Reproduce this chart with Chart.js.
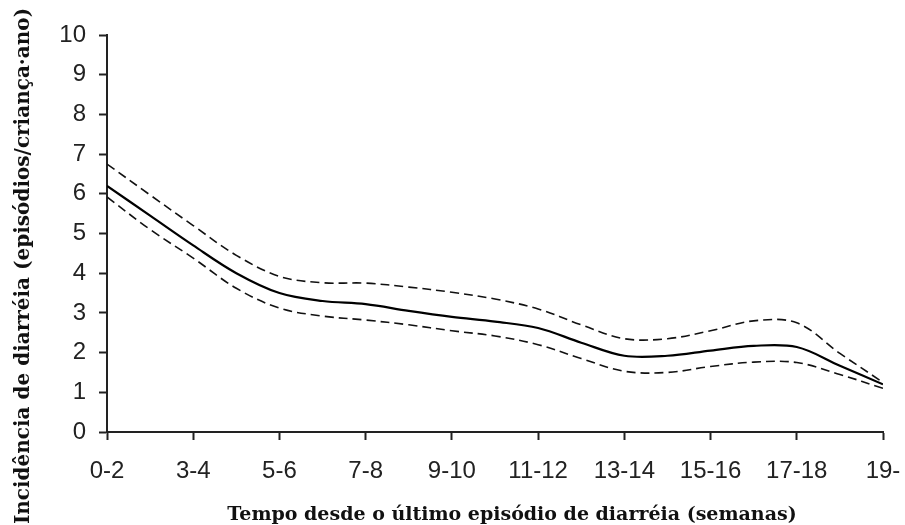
<!DOCTYPE html>
<html>
<head>
<meta charset="utf-8">
<script src="https://cdn.jsdelivr.net/npm/chart.js"></script>
<style>
  html, body { margin: 0; padding: 0; background: #fff; }
  #wrap { width: 905px; height: 525px; }
</style>
</head>
<body>
<div id="wrap"><canvas id="chart" width="905" height="525"></canvas></div>
<script>
// tick labels of the x axis (weeks since last episode)
const weekLabels = ['0-2', '3-4', '5-6', '7-8', '9-10', '11-12', '13-14', '15-16', '17-18', '19-'];
// curve sampled at half steps between the week groups
const weekPos = [0, 0.5, 1, 1.5, 2, 2.5, 3, 3.5, 4, 4.5, 5, 5.5, 6, 6.5, 7, 7.5, 8, 8.5, 9];
const incidence = [6.2, 5.45, 4.7, 4.0, 3.5, 3.3, 3.22, 3.05, 2.9, 2.78, 2.62, 2.25, 1.92, 1.92, 2.05, 2.17, 2.14, 1.67, 1.2];
const upperCI   = [6.75, 5.97, 5.2, 4.45, 3.92, 3.76, 3.75, 3.65, 3.52, 3.35, 3.1, 2.7, 2.35, 2.35, 2.55, 2.8, 2.75, 1.98, 1.25];
const lowerCI   = [5.92, 5.1, 4.38, 3.62, 3.12, 2.92, 2.82, 2.7, 2.55, 2.42, 2.2, 1.85, 1.53, 1.5, 1.65, 1.76, 1.75, 1.45, 1.1];
const yTicks    = [0, 1, 2, 3, 4, 5, 6, 7, 8, 9, 10];

const xTitle = 'Tempo desde o último episódio de diarréia (semanas)';
const yTitle = 'Incidência de diarréia (episódios/criança·ano)';

const axisColor = '#222';
const titleFamily = '"DejaVu Serif", "Liberation Serif", serif';

function toPoints(values) {
    return values.map((v, i) => ({ x: weekPos[i], y: v }));
}

// axis titles drawn by hand so they can sit where the original puts them
const axisTitles = {
    id: 'axisTitles',
    afterDraw(chart) {
        const ctx = chart.ctx;
        ctx.save();
        ctx.fillStyle = '#111';
        ctx.textAlign = 'center';
        ctx.textBaseline = 'alphabetic';
        ctx.font = 'bold 19px ' + titleFamily;
        ctx.fillText(xTitle, 512, 520);
        ctx.font = 'bold 20px ' + titleFamily;
        ctx.translate(29, 266);
        ctx.rotate(-Math.PI / 2);
        ctx.fillText(yTitle, 0, 0);
        ctx.restore();
    }
};

const ctx = document.getElementById('chart').getContext('2d');
new Chart(ctx, {
    type: 'line',
    data: {
        datasets: [
            {
                label: 'Incidência',
                data: toPoints(incidence),
                borderColor: '#000',
                borderWidth: 2.2
            },
            {
                label: 'IC 95% superior',
                data: toPoints(upperCI),
                borderColor: '#111',
                borderWidth: 1.6,
                borderDash: [9, 5]
            },
            {
                label: 'IC 95% inferior',
                data: toPoints(lowerCI),
                borderColor: '#111',
                borderWidth: 1.6,
                borderDash: [9, 5]
            }
        ]
    },
    options: {
        responsive: false,
        animation: false,
        layout: { padding: { top: 35, right: 22, left: 0, bottom: 0 } },
        elements: {
            point: { radius: 0 },
            line: { tension: 0.35, fill: false }
        },
        plugins: {
            legend: { display: false },
            tooltip: { enabled: false }
        },
        scales: {
            x: {
                type: 'linear',
                min: 0,
                max: weekLabels.length - 1,
                afterFit: (scale) => {
                    scale.height = 93;
                    scale.paddingLeft = 0;
                    scale.paddingRight = 0;
                },
                afterBuildTicks: (scale) => {
                    scale.ticks = weekLabels.map((_, i) => ({ value: i }));
                },
                ticks: {
                    color: '#222',
                    padding: 17,
                    maxRotation: 0,
                    autoSkip: false,
                    font: { family: '"Liberation Sans", Arial, sans-serif', size: 24 },
                    callback: (v) => weekLabels[v]
                },
                grid: {
                    drawOnChartArea: false,
                    drawTicks: true,
                    tickLength: 8,
                    tickWidth: 2,
                    tickColor: axisColor
                },
                border: { display: true, color: axisColor, width: 2 }
            },
            y: {
                min: 0,
                max: 10,
                afterFit: (scale) => { scale.width = 107; },
                afterBuildTicks: (scale) => {
                    scale.ticks = yTicks.map(v => ({ value: v }));
                },
                ticks: {
                    color: '#222',
                    padding: 13,
                    font: { family: '"Liberation Sans", Arial, sans-serif', size: 24 }
                },
                grid: {
                    drawOnChartArea: false,
                    drawTicks: true,
                    tickLength: 8,
                    tickWidth: 2,
                    tickColor: axisColor
                },
                border: { display: true, color: axisColor, width: 2 }
            }
        }
    },
    plugins: [axisTitles]
});
</script>
</body>
</html>
